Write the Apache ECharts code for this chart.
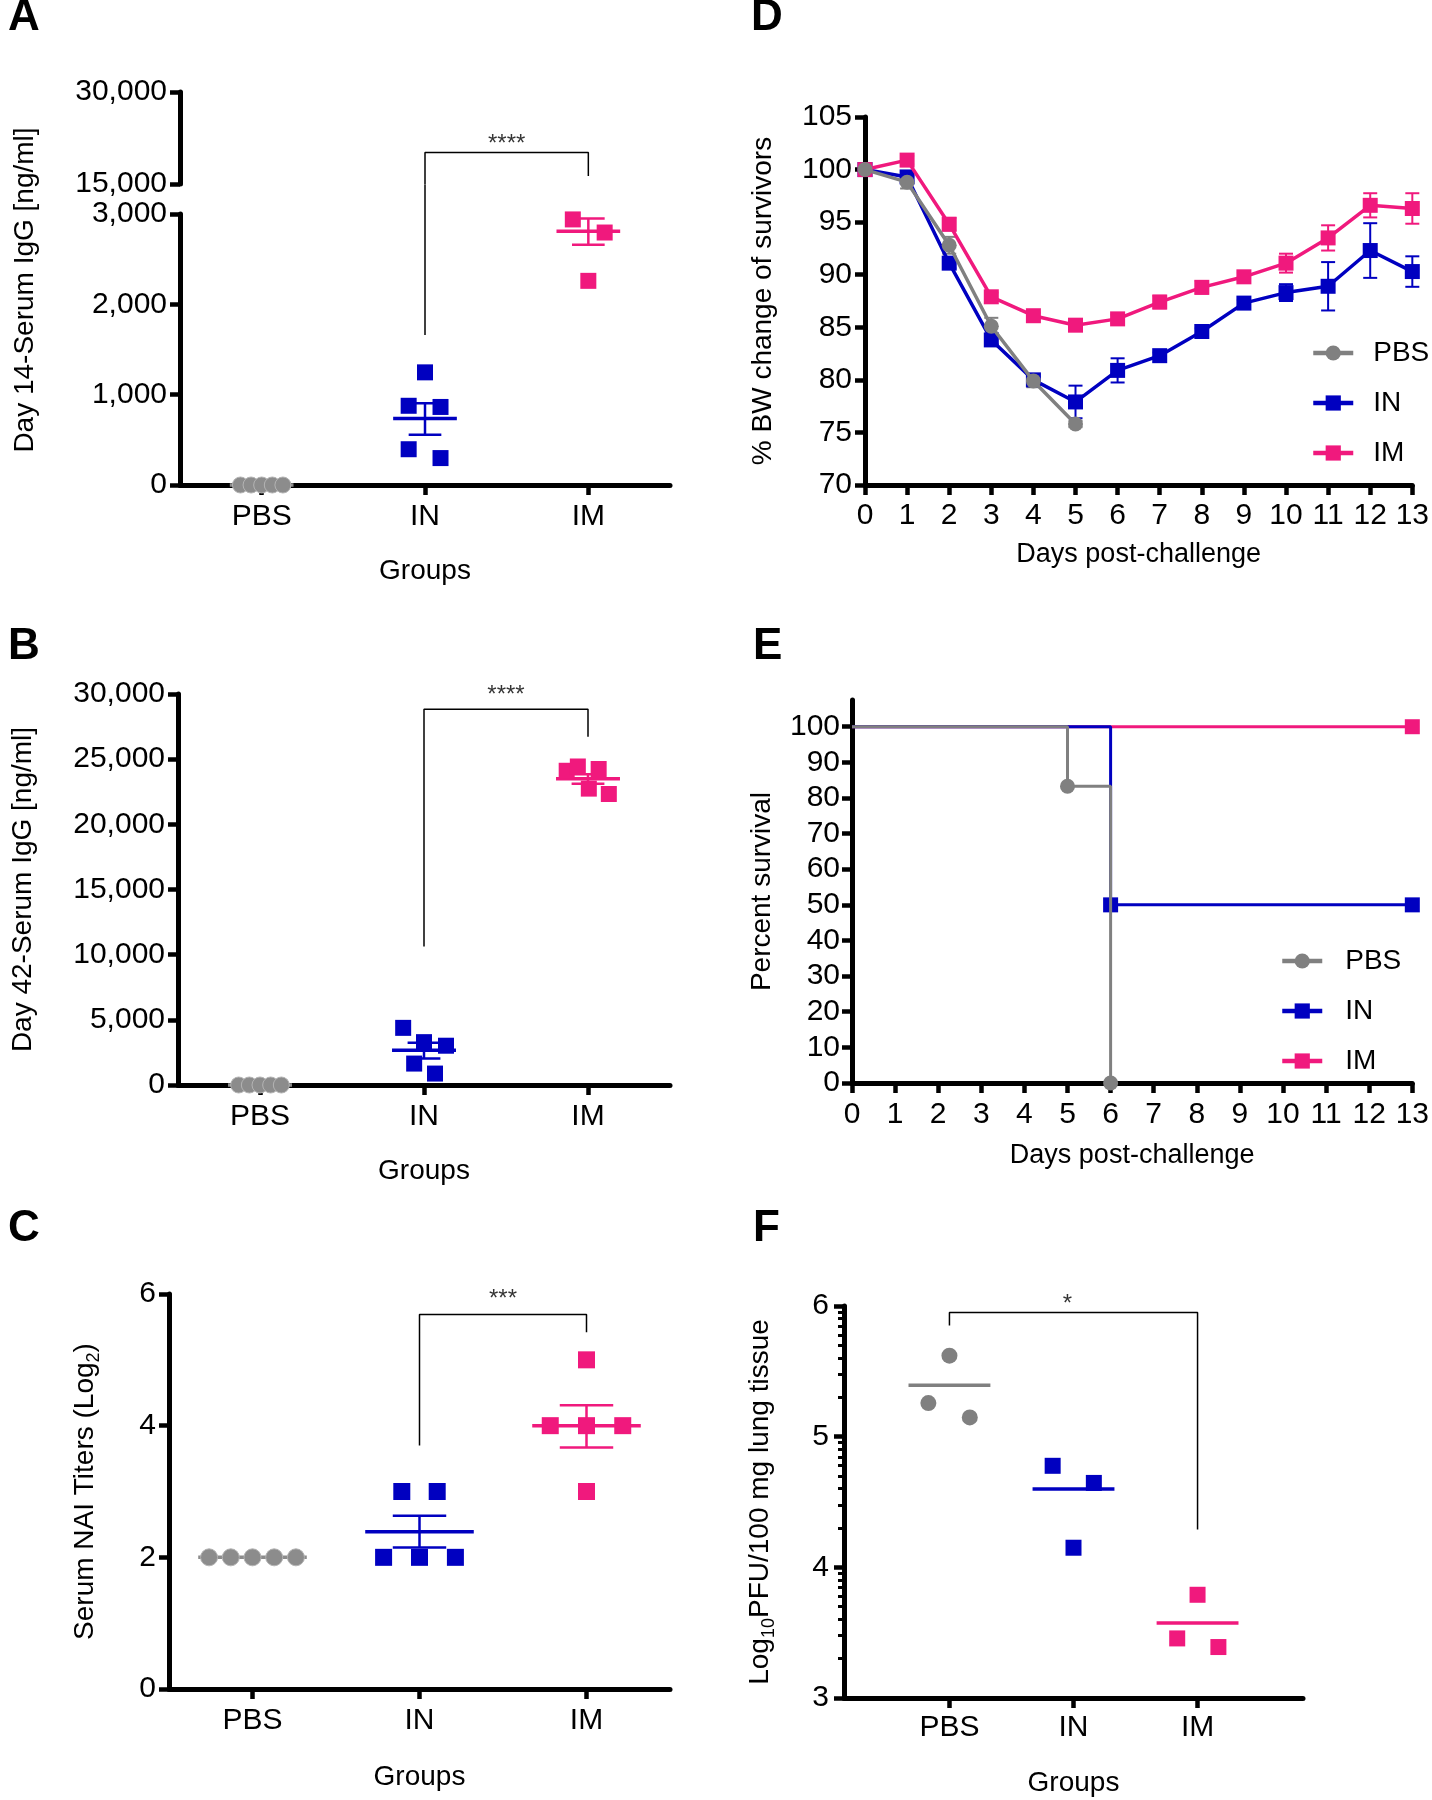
<!DOCTYPE html>
<html>
<head>
<meta charset="utf-8">
<script src="https://cdn.jsdelivr.net/npm/echarts@6/dist/echarts.min.js"></script>
<style>
html,body{margin:0;padding:0;background:#fff}
#c{width:1432px;height:1800px}
</style>
</head>
<body>
<div id="c"></div>
<script>
// ---------------- DATA ----------------
const groups = ['PBS', 'IN', 'IM'];

// Panel A: Day 14 serum IgG (ng/ml)
const aPBS = [0, 0, 0, 0, 0];
const aPBSJit = [-0.13, -0.065, 0, 0.065, 0.13];
const aIN = [1247, 877, 864, 396, 298];
const aINJit = [0, -0.1, 0.095, -0.1, 0.095];
const aIM = [2940, 2795, 2260];
const aIMJit = [-0.095, 0.1, 0];
const aMean = [0, 736, 2810];
const aSemLo = [0, 557, 2660];
const aSemHi = [0, 906, 2950];
const aBracket = { inEnd: 1660, top: 20150, imEnd: 16300, star: 21520, breakTop: 3330 };

// Panel B: Day 42 serum IgG (ng/ml)
const bPBS = [0, 0, 0, 0, 0];
const bPBSJit = [-0.13, -0.065, 0, 0.065, 0.13];
const bIN = [4384, 3288, 3014, 1644, 877];
const bINJit = [-0.127, 0, 0.134, -0.06, 0.067];
const bIM = [24110, 24438, 24247, 22740, 22329];
const bIMJit = [-0.13, -0.062, 0.065, 0.005, 0.127];
const bMean = [0, 2658, 23507];
const bSemLo = [0, 2027, 23123];
const bSemHi = [0, 3233, 23836];
const bBracket = { inEnd: 10630, top: 28822, imEnd: 26712, star: 29900 };

// Panel C: Serum NAI titers (log2)
const cPBS = [2, 2, 2, 2, 2];
const cPBSJit = [-0.26, -0.13, 0, 0.13, 0.26];
const cIN = [3, 3, 2, 2, 2];
const cINJit = [-0.106, 0.106, -0.215, 0, 0.215];
const cIM = [5, 4, 4, 4, 3];
const cIMJit = [0, -0.217, 0, 0.217, 0];
const cMean = [2, 2.39, 4.0];
const cSemLo = [2, 2.15, 3.67];
const cSemHi = [2, 2.63, 4.31];
const cBracket = { inEnd: 3.70, top: 5.69, imEnd: 5.42, star: 5.92 };

// Panel D: % body weight of survivors
const dDays = [0, 1, 2, 3, 4, 5, 6, 7, 8, 9, 10, 11, 12, 13];
const dPBS = [100, 98.8, 92.8, 85.1, 79.9, 75.8];
const dPBSErr = [0, 0.6, 0.8, 0.8, 0.6, 0.3];
const dIN = [100, 99.3, 91.1, 83.8, 80.0, 77.9, 80.9, 82.3, 84.6, 87.3, 88.3, 88.9, 92.3, 90.3];
const dINErr = [0.2, 0.4, 0.5, 0.4, 0.3, 1.55, 1.15, 0.3, 0.3, 0.3, 0.8, 2.3, 2.6, 1.45];
const dIM = [100, 100.9, 94.8, 87.9, 86.1, 85.2, 85.8, 87.4, 88.8, 89.8, 91.1, 93.5, 96.6, 96.3];
const dIMErr = [0.2, 0.4, 0.6, 0.4, 0.3, 0.5, 0.4, 0.6, 0.6, 0.4, 0.9, 1.2, 1.15, 1.45];

// Panel E: Kaplan-Meier survival
const ePBSDays = [0, 5, 6];
const ePBS = [100, 83.3, 0];
const eINDays = [0, 6, 13];
const eIN = [100, 50, 50];
const eIMDays = [0, 13];
const eIM = [100, 100];
const eYTicks = [0, 10, 20, 30, 40, 50, 60, 70, 80, 90, 100];

// Panel F: lung viral titers (log10 PFU / 100 mg)
const fPBS = [5.62, 5.257, 5.147];
const fPBSJit = [0, -0.17, 0.164];
const fIN = [4.777, 4.646, 4.15];
const fINJit = [-0.168, 0.164, 0];
const fIM = [3.79, 3.456, 3.39];
const fIMJit = [0, -0.164, 0.168];
const fMean = [5.394, 4.6, 3.574];
const fBracket = { pbsEnd: 5.85, top: 5.95, imEnd: 4.29, star: 6.01 };
const fMinorTicks = [];
[3, 4, 5].forEach(n => { for (let k = 2; k <= 9; k++) fMinorTicks.push(n + Math.log10(k)); });

// ---------------- STYLE ----------------
const FONT = '"Liberation Sans", Arial, Helvetica, sans-serif';
const blue = '#0000C0', pink = '#F0197D', grey = '#808080', greyL = '#8C8C8C';

const lineS = () => ({ show: true, onZero: false, lineStyle: { color: '#000', width: 5 } });
const tickS = () => ({ show: true, length: 10, lineStyle: { color: '#000', width: 4.5 } });
const lab = m => ({ color: '#000', fontSize: 30, fontFamily: FONT, margin: m });
const nameS = { color: '#000', fontSize: 28, fontFamily: FONT };
const yNameS = {
  color: '#000', fontSize: 28, fontFamily: FONT,
  rich: {
    n: { color: '#000', fontSize: 28, fontFamily: FONT, lineHeight: 36, verticalAlign: 'middle' },
    sub: { color: '#000', fontSize: 18, fontFamily: FONT, lineHeight: 18, verticalAlign: 'bottom' }
  }
};
const comma = v => Number(v).toLocaleString('en-US');

const pts = (idx, jit, vals) => vals.map((v, i) => [idx + jit[i], v]);

function catX(grid, min, max, gap, margin) {
  return {
    type: 'value', gridIndex: grid, min: min, max: max,
    axisLine: lineS(),
    axisTick: Object.assign(tickS(), { customValues: [0, 1, 2] }),
    axisLabel: Object.assign(lab(margin), { customValues: [0, 1, 2], formatter: v => groups[Math.round(v)] }),
    splitLine: { show: false },
    name: 'Groups', nameLocation: 'middle', nameGap: gap, nameTextStyle: nameS
  };
}
function valY(grid, min, max, interval, extra) {
  return Object.assign({
    type: 'value', gridIndex: grid, position: 'left', min: min, max: max, interval: interval,
    axisLine: lineS(), axisTick: tickS(), axisLabel: lab(13), splitLine: { show: false },
    nameLocation: 'middle', nameTextStyle: yNameS
  }, extra || {});
}

function meanSem(halfMean, halfCap) {
  return function (params, api) {
    const x = api.value(0), m = api.value(1), lo = api.value(2), hi = api.value(3);
    const unit = api.size([1, 0])[0];
    const c = api.coord([x, m]);
    const color = api.visual('color');
    const ch = [{ type: 'line', shape: { x1: c[0] - halfMean * unit, y1: c[1], x2: c[0] + halfMean * unit, y2: c[1] },
      style: { stroke: color, lineWidth: 3.5 } }];
    if (hi > lo) {
      const a = api.coord([x, lo]), b = api.coord([x, hi]);
      const st = { stroke: color, lineWidth: 2.5 };
      ch.push({ type: 'line', shape: { x1: a[0], y1: a[1], x2: b[0], y2: b[1] }, style: st });
      ch.push({ type: 'line', shape: { x1: a[0] - halfCap * unit, y1: a[1], x2: a[0] + halfCap * unit, y2: a[1] }, style: st });
      ch.push({ type: 'line', shape: { x1: b[0] - halfCap * unit, y1: b[1], x2: b[0] + halfCap * unit, y2: b[1] }, style: st });
    }
    return { type: 'group', children: ch };
  };
}
function errBar(half) {
  return function (params, api) {
    const x = api.value(0), y = api.value(1), e = api.value(2);
    if (!e) return null;
    const t = api.coord([x, y + e]), b = api.coord([x, y - e]);
    const st = { stroke: api.visual('color'), lineWidth: 2 };
    return { type: 'group', children: [
      { type: 'line', shape: { x1: t[0], y1: t[1], x2: b[0], y2: b[1] }, style: st },
      { type: 'line', shape: { x1: t[0] - half, y1: t[1], x2: t[0] + half, y2: t[1] }, style: st },
      { type: 'line', shape: { x1: b[0] - half, y1: b[1], x2: b[0] + half, y2: b[1] }, style: st }
    ] };
  };
}
function meanData(mean, lo, hi, colors) {
  return mean.map((m, i) => ({ value: [i, m, lo[i], hi[i]], itemStyle: { color: colors[i] } }));
}
function scat(name, xi, yi, data, symbol, size, color, border) {
  return { type: 'scatter', name: name, xAxisIndex: xi, yAxisIndex: yi, data: data, symbol: symbol, symbolSize: size,
    itemStyle: { color: color, opacity: 1, borderColor: border || color, borderWidth: border ? 1 : 0 }, z: 3, clip: false };
}
function bracket(xi, yi, data) {
  return { type: 'line', xAxisIndex: xi, yAxisIndex: yi, data: data, symbol: 'none', clip: false,
    lineStyle: { color: '#000', width: 1.5 }, z: 5, silent: true };
}
function star(xi, yi, x, y, txt) {
  return { type: 'scatter', xAxisIndex: xi, yAxisIndex: yi, data: [[x, y]], symbolSize: 1, clip: false,
    itemStyle: { color: 'rgba(0,0,0,0)' }, z: 6, silent: true,
    label: { show: true, position: 'inside', formatter: txt, color: '#000', fontSize: 24, fontFamily: FONT } };
}
function kmData(days, vals) {
  return days.map((d, i) => i === 0 ? { value: [d, vals[i]], symbol: 'none' } : [d, vals[i]]);
}

// ---------------- OPTION ----------------
const legendBase = {
  data: ['PBS', 'IN', 'IM'], orient: 'vertical', itemWidth: 40, itemHeight: 19,
  selectedMode: false, lineStyle: { width: 4.5 }
};
const option = {
  animation: false,
  backgroundColor: '#fff',
  grid: [
    { left: 180, top: 92, width: 490, height: 92 },    // A upper
    { left: 180, top: 214, width: 490, height: 271 },  // A lower
    { left: 178, top: 694, width: 492, height: 391 },  // B
    { left: 169, top: 1294, width: 501, height: 395 }, // C
    { left: 865, top: 117, width: 551, height: 368 },  // D
    { left: 852, top: 700, width: 564, height: 383 },  // E
    { left: 844, top: 1306, width: 459, height: 392 }  // F
  ],
  xAxis: [
    { type: 'value', gridIndex: 0, min: -0.5, max: 2.5, show: false },
    catX(1, -0.5, 2.5, 72, 17),
    catX(2, -0.5, 2.5, 72, 17),
    catX(3, -0.5, 2.5, 74, 17),
    { type: 'value', gridIndex: 4, min: 0, max: 13, interval: 1, axisLine: lineS(), axisTick: tickS(), axisLabel: lab(16),
      splitLine: { show: false }, name: 'Days post-challenge', nameLocation: 'middle', nameGap: 56,
      nameTextStyle: Object.assign({}, nameS, { fontSize: 27 }) },
    { type: 'value', gridIndex: 5, min: 0, max: 13, interval: 1, axisLine: lineS(), axisTick: tickS(), axisLabel: lab(17),
      splitLine: { show: false }, name: 'Days post-challenge', nameLocation: 'middle', nameGap: 59,
      nameTextStyle: Object.assign({}, nameS, { fontSize: 27 }) },
    catX(6, -0.85, 2.85, 71, 15)
  ],
  yAxis: [
    valY(0, 15000, 30000, 15000, { axisLabel: Object.assign(lab(13), { formatter: comma }) }),
    valY(1, 0, 3000, 1000, { axisLabel: Object.assign(lab(13), { formatter: comma }) }),
    valY(2, 0, 30000, 5000, { axisLabel: Object.assign(lab(13), { formatter: comma }),
      name: 'Day 42-Serum IgG [ng/ml]', nameGap: 141 }),
    valY(3, 0, 6, 2, { name: '{n|Serum NAI Titers (Log}{sub|2}{n|)}', nameGap: 66 }),
    valY(4, 70, 105, 5, { name: '% BW change of survivors', nameGap: 88 }),
    valY(5, 0, 107.5, null, {
      axisTick: Object.assign(tickS(), { customValues: eYTicks }),
      axisLabel: Object.assign(lab(12), { customValues: eYTicks }),
      name: 'Percent survival', nameGap: 76 }),
    valY(6, 3, 6, 1, { name: '{n|Log}{sub|10}{n|PFU/100 mg lung tissue}', nameGap: 66, axisLabel: lab(15) }),
    { type: 'value', gridIndex: 6, position: 'left', offset: 0, min: 3, max: 6, axisLine: { show: false, onZero: false },
      axisTick: { show: true, length: 6, customValues: fMinorTicks, lineStyle: { color: '#000', width: 3 } },
      axisLabel: { show: false }, splitLine: { show: false } }
  ],
  legend: [
    Object.assign({}, legendBase, { left: 1306, top: 334, itemGap: 22,
      textStyle: { fontSize: 28, fontFamily: FONT, color: '#000', padding: [0, 0, 0, 15] } }),
    Object.assign({}, legendBase, { left: 1275, top: 942, itemGap: 22,
      textStyle: { fontSize: 28, fontFamily: FONT, color: '#000', padding: [0, 0, 0, 18] } })
  ],
  series: [
    // ---- D (listed first so legends use these icons)
    { type: 'custom', xAxisIndex: 4, yAxisIndex: 4, renderItem: errBar(7), itemStyle: { color: blue }, z: 2,
      data: dIN.map((v, i) => [dDays[i], v, dINErr[i]]) },
    { type: 'custom', xAxisIndex: 4, yAxisIndex: 4, renderItem: errBar(7), itemStyle: { color: pink }, z: 2,
      data: dIM.map((v, i) => [dDays[i], v, dIMErr[i]]) },
    { type: 'custom', xAxisIndex: 4, yAxisIndex: 4, renderItem: errBar(7), itemStyle: { color: grey }, z: 2,
      data: dPBS.map((v, i) => [dDays[i], v, dPBSErr[i]]) },
    { type: 'line', name: 'PBS', xAxisIndex: 4, yAxisIndex: 4, data: dPBS.map((v, i) => [dDays[i], v]),
      symbol: 'circle', symbolSize: 15, lineStyle: { color: grey, width: 3.5 }, itemStyle: { color: grey }, z: 5 },
    { type: 'line', name: 'IN', xAxisIndex: 4, yAxisIndex: 4, data: dIN.map((v, i) => [dDays[i], v]),
      symbol: 'rect', symbolSize: 15, lineStyle: { color: blue, width: 3.5 }, itemStyle: { color: blue }, z: 3 },
    { type: 'line', name: 'IM', xAxisIndex: 4, yAxisIndex: 4, data: dIM.map((v, i) => [dDays[i], v]),
      symbol: 'rect', symbolSize: 15, lineStyle: { color: pink, width: 3.5 }, itemStyle: { color: pink }, z: 4 },

    // ---- E
    { type: 'line', name: 'IM', xAxisIndex: 5, yAxisIndex: 5, step: 'end', data: kmData(eIMDays, eIM),
      symbol: 'rect', symbolSize: 15, lineStyle: { color: pink, width: 3 }, itemStyle: { color: pink }, z: 3 },
    { type: 'line', name: 'IN', xAxisIndex: 5, yAxisIndex: 5, step: 'end', data: kmData(eINDays, eIN),
      symbol: 'rect', symbolSize: 15, lineStyle: { color: blue, width: 3 }, itemStyle: { color: blue }, z: 4 },
    { type: 'line', name: 'PBS', xAxisIndex: 5, yAxisIndex: 5, step: 'end', data: kmData(ePBSDays, ePBS),
      symbol: 'circle', symbolSize: 15, lineStyle: { color: grey, width: 3 }, itemStyle: { color: grey }, z: 5, clip: false },

    // ---- A
    { type: 'custom', xAxisIndex: 1, yAxisIndex: 1, renderItem: meanSem(0.195, 0.1), z: 2, clip: false,
      data: meanData(aMean, aSemLo, aSemHi, [greyL, blue, pink]) },
    scat('A PBS', 1, 1, pts(0, aPBSJit, aPBS), 'circle', 16, greyL, '#b4b4b4'),
    scat('A IN', 1, 1, pts(1, aINJit, aIN), 'rect', 16, blue),
    scat('A IM', 1, 1, pts(2, aIMJit, aIM), 'rect', 16, pink),
    bracket(0, 0, [[1, 15000], [1, aBracket.top], [2, aBracket.top], [2, aBracket.imEnd]]),
    bracket(1, 1, [[1, aBracket.inEnd], [1, aBracket.breakTop]]),
    star(0, 0, 1.5, aBracket.star, '****'),

    // ---- B
    { type: 'custom', xAxisIndex: 2, yAxisIndex: 2, renderItem: meanSem(0.195, 0.1), z: 2, clip: false,
      data: meanData(bMean, bSemLo, bSemHi, [greyL, blue, pink]) },
    scat('B PBS', 2, 2, pts(0, bPBSJit, bPBS), 'circle', 16, greyL, '#b4b4b4'),
    scat('B IN', 2, 2, pts(1, bINJit, bIN), 'rect', 16, blue),
    scat('B IM', 2, 2, pts(2, bIMJit, bIM), 'rect', 16, pink),
    bracket(2, 2, [[1, bBracket.inEnd], [1, bBracket.top], [2, bBracket.top], [2, bBracket.imEnd]]),
    star(2, 2, 1.5, bBracket.star, '****'),

    // ---- C
    { type: 'custom', xAxisIndex: 3, yAxisIndex: 3, renderItem: meanSem(0.325, 0.16), z: 2, clip: false,
      data: meanData(cMean, cSemLo, cSemHi, [greyL, blue, pink]) },
    scat('C PBS', 3, 3, pts(0, cPBSJit, cPBS), 'circle', 17, greyL, '#b4b4b4'),
    scat('C IN', 3, 3, pts(1, cINJit, cIN), 'rect', 17, blue),
    scat('C IM', 3, 3, pts(2, cIMJit, cIM), 'rect', 17, pink),
    bracket(3, 3, [[1, cBracket.inEnd], [1, cBracket.top], [2, cBracket.top], [2, cBracket.imEnd]]),
    star(3, 3, 1.5, cBracket.star, '***'),

    // ---- F
    { type: 'custom', xAxisIndex: 6, yAxisIndex: 6, renderItem: meanSem(0.33, 0), z: 2, clip: false,
      data: meanData(fMean, fMean, fMean, [grey, blue, pink]) },
    scat('F PBS', 6, 6, pts(0, fPBSJit, fPBS), 'circle', 16, grey),
    scat('F IN', 6, 6, pts(1, fINJit, fIN), 'rect', 16, blue),
    scat('F IM', 6, 6, pts(2, fIMJit, fIM), 'rect', 16, pink),
    bracket(6, 6, [[0, fBracket.pbsEnd], [0, fBracket.top], [2, fBracket.top], [2, fBracket.imEnd]]),
    star(6, 6, 0.95, fBracket.star, '*')
  ],
  graphic: [
    { type: 'text', x: 25, y: 290, rotation: Math.PI / 2,
      style: { text: 'Day 14-Serum IgG [ng/ml]', fontSize: 28, fontFamily: FONT, fill: '#000',
        textAlign: 'center', textVerticalAlign: 'middle', align: 'center', verticalAlign: 'middle' } }
  ].concat([['A', 8, -4], ['B', 8, 625], ['C', 8, 1207], ['D', 751, -4], ['E', 753, 625], ['F', 753, 1207]].map(p => ({
    type: 'text', x: p[1], y: p[2],
    style: { text: p[0], fontSize: 44, fontWeight: 'bold', fontFamily: FONT, fill: '#000',
      textAlign: 'left', textVerticalAlign: 'top', align: 'left', verticalAlign: 'top' }
  })))
};

const chart = echarts.init(document.getElementById('c'), null, { renderer: 'canvas', width: 1432, height: 1800 });
chart.setOption(option);
</script>
</body>
</html>
